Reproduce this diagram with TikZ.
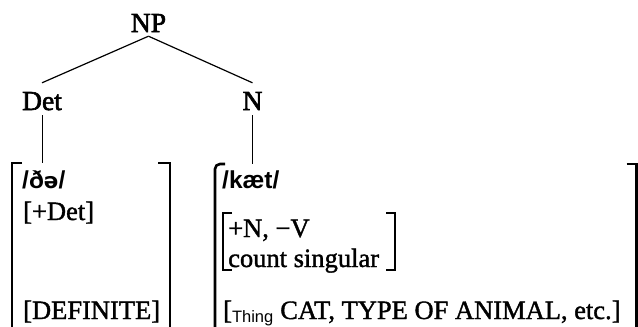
\documentclass[tikz,border=0pt]{standalone}
\usepackage{fontspec}
\setmainfont{Liberation Serif}[FakeBold=1.4]
\newfontfamily\labelfont{Liberation Serif}[FakeBold=2.2]
\newfontfamily\ipafont{Liberation Sans}
\newfontfamily\schwafont{DejaVu Sans}
\begin{document}
\begin{tikzpicture}[x=1pt,y=-1pt,
  treelabel/.style={font=\fontsize{27.5}{32}\selectfont\labelfont, text height=22pt, text depth=0pt, inner ysep=5pt, inner xsep=0pt, anchor=base},
  toplabel/.style={font=\fontsize{27.5}{32}\selectfont\labelfont, inner sep=4pt, anchor=base},
  boxtext/.style={font=\fontsize{26.5}{32}\selectfont, anchor=base west, inner sep=0pt},
  phon/.style={font=\fontsize{24.5}{28}\selectfont\ipafont\bfseries, anchor=base west, inner sep=0pt},
  region/.style={inner sep=0pt, outer sep=0pt, anchor=north west},
  bracket/.style={line width=2.6pt},
  ibracket/.style={line width=2pt},
  branch/.style={line width=1.2pt},
  stem/.style={line width=1pt}
]
\useasboundingbox (0,0) rectangle (638,327);

% tree labels
\node[toplabel] (NP) at (148.5,32) {NP};
\node[treelabel] (Det) at (42,110) {Det};
\node[treelabel] (N) at (252.5,110) {N};

% regions of the bracketed boxes
\node[region, minimum width=158pt, minimum height=170pt] (lbox) at (12,163) {};
\node[region, minimum width=421.5pt, minimum height=170pt] (rbox) at (215,164) {};
\node[region, minimum width=172pt, minimum height=57pt] (ibox) at (223,213) {};

% connectors
\draw[branch] (NP.south) -- (Det.north);
\draw[branch] (NP.south) -- (N.north);
\draw[stem] (Det.south) -- (Det.south |- lbox.north);
\draw[stem] (N.south) -- (N.south |- rbox.north);

% brackets
\draw[bracket] ([xshift=10pt]lbox.north west) -- (lbox.north west) -- (lbox.south west);
\draw[bracket] ([xshift=-12pt]lbox.north east) -- (lbox.north east) -- (lbox.south east);
\draw[bracket, rounded corners=5pt] ([xshift=10pt]rbox.north west) -- (rbox.north west) -- (rbox.south west);
\draw[bracket] ([xshift=-10pt]rbox.north east) -- (rbox.north east) -- (rbox.south east);
\draw[ibracket] ([xshift=9pt]ibox.north west) -- (ibox.north west) -- (ibox.south west) -- ([xshift=9pt]ibox.south west);
\draw[ibracket] ([xshift=-9pt]ibox.north east) -- (ibox.north east) -- (ibox.south east) -- ([xshift=-9pt]ibox.south east);

% left box content
\node[phon] (the) at (22,188) {/ð{\schwafont\bfseries\fontsize{21.5}{24}\selectfont ə}/};
\node[boxtext] (plusdet) at (23,220) {[+Det]};
\node[boxtext] (definite) at (23,319) {[DEFINITE]};

% right box content
\node[phon] (cat) at (222,188) {/kæt/};
\node[boxtext] (nv) at (228,237) {+N, −V};
\node[boxtext] (count) at (228,267) {count singular};
\node[boxtext] (thing) at (223,319) {[{\ipafont\fontsize{16.5}{18}\selectfont\raisebox{-3.5pt}{Thing}}\hspace{7pt}CAT, TYPE OF ANIMAL, etc.]};
\end{tikzpicture}
\end{document}
